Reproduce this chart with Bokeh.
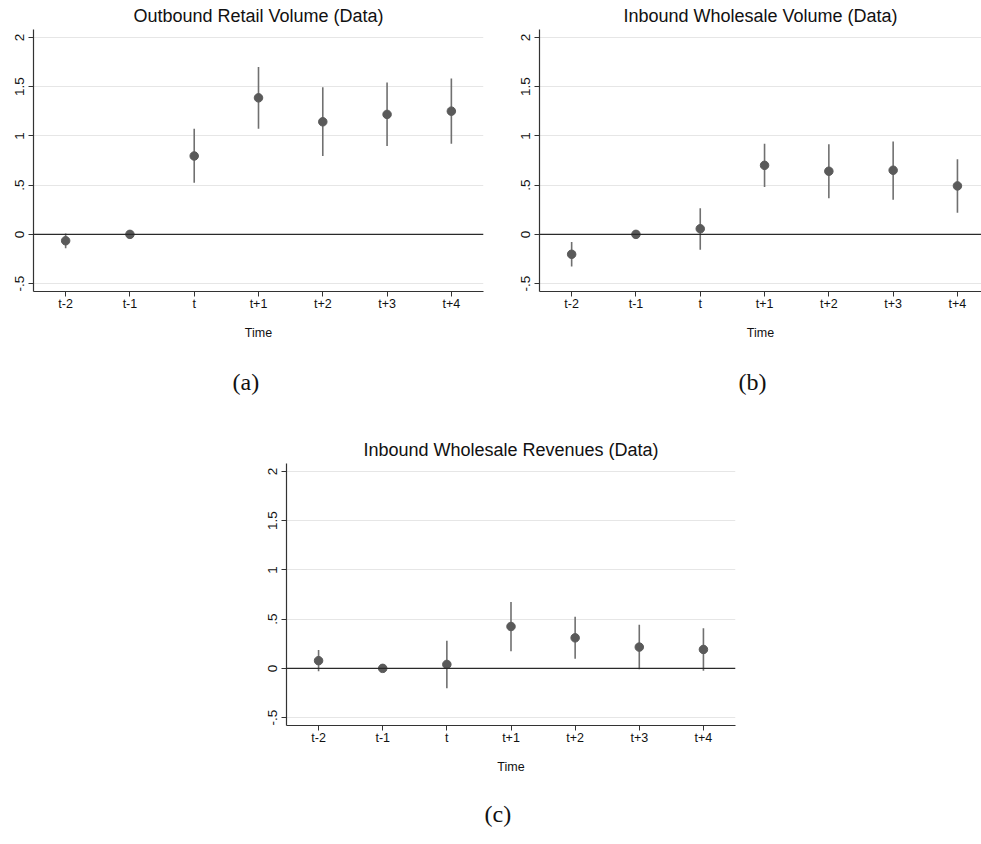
from bokeh.plotting import figure
from bokeh.models import FixedTicker, Span, Title, Spacer, Range1d, ColumnDataSource
from bokeh.layouts import column, row
from bokeh.embed import file_html
from bokeh.resources import INLINE

# ---------------- data ----------------
periods = ["t-2", "t-1", "t", "t+1", "t+2", "t+3", "t+4"]

y_ticks = [-0.5, 0, 0.5, 1, 1.5, 2]
y_tick_labels = ["-.5", "0", ".5", "1", "1.5", "2"]

a_title = "Outbound Retail Volume (Data)"
a_est = [-0.065, 0.0, 0.796, 1.386, 1.143, 1.218, 1.251]
a_lo = [-0.14, 0.0, 0.523, 1.072, 0.796, 0.897, 0.921]
a_hi = [0.01, 0.0, 1.072, 1.70, 1.494, 1.541, 1.582]

b_title = "Inbound Wholesale Volume (Data)"
b_est = [-0.202, 0.0, 0.057, 0.701, 0.641, 0.651, 0.492]
b_lo = [-0.327, 0.0, -0.155, 0.482, 0.368, 0.351, 0.219]
b_hi = [-0.078, 0.0, 0.266, 0.921, 0.914, 0.944, 0.762]

c_title = "Inbound Wholesale Revenues (Data)"
c_est = [0.078, 0.0, 0.040, 0.425, 0.31, 0.216, 0.192]
c_lo = [-0.03, 0.0, -0.202, 0.175, 0.098, -0.01, -0.024]
c_hi = [0.186, 0.0, 0.28, 0.675, 0.523, 0.442, 0.408]

captions = ["(a)", "(b)", "(c)"]
x_label = "Time"


def make_panel(title, est, lo, hi, caption, frame_width, x_end, border_left,
               border_right, border_top, border_bottom, caption_standoff,
               caption_offset, title_offset=0):
    xs = list(range(len(periods)))
    src = ColumnDataSource(dict(x=xs, est=est, lo=lo, hi=hi))
    p = figure(frame_width=frame_width, frame_height=262,
               x_range=Range1d(-0.5, x_end), y_range=Range1d(-0.58, 2.08),
               output_backend="svg", toolbar_location=None,
               min_border_left=border_left, min_border_right=border_right,
               min_border_top=border_top, min_border_bottom=border_bottom,
               background_fill_color="white", border_fill_color="white",
               outline_line_color=None)
    p.title.text = title
    p.title.text_font = "Liberation Sans"
    p.title.text_font_size = "18px"
    p.title.text_font_style = "normal"
    p.title.text_color = "#111111"
    p.title.align = "center"
    p.title.standoff = 7
    p.title.offset = title_offset

    for ax in (p.xaxis, p.yaxis):
        ax.major_label_text_font = "Liberation Sans"
        ax.major_label_text_color = "#111111"
        ax.axis_line_color = "#333333"
        ax.axis_line_width = 1.2
        ax.major_tick_line_color = "#333333"
        ax.major_tick_out = 5
        ax.major_tick_in = 0
        ax.minor_tick_line_color = None

    p.xaxis.ticker = FixedTicker(ticks=xs)
    p.xaxis.major_label_overrides = {i: lab for i, lab in zip(xs, periods)}
    p.xaxis.major_label_text_font_size = "12.5px"
    p.xaxis.major_label_standoff = 0
    p.xaxis.axis_label = x_label
    p.xaxis.axis_label_text_font = "Liberation Sans"
    p.xaxis.axis_label_text_font_size = "12.5px"
    p.xaxis.axis_label_text_font_style = "normal"
    p.xaxis.axis_label_text_color = "#111111"
    p.xaxis.axis_label_standoff = 12

    p.yaxis.ticker = FixedTicker(ticks=y_ticks)
    p.yaxis.major_label_overrides = {t: lab for t, lab in zip(y_ticks, y_tick_labels)}
    p.yaxis.major_label_text_font_size = "13.5px"
    p.yaxis.major_label_orientation = "vertical"
    p.yaxis.major_label_standoff = 4

    p.xgrid.visible = False
    p.ygrid.ticker = FixedTicker(ticks=y_ticks)
    p.ygrid.grid_line_color = "#e6e6e6"
    p.ygrid.grid_line_width = 1

    p.add_layout(Span(location=0, dimension="width", line_color="#2a2a2a",
                      line_width=1.4))
    p.segment(x0="x", y0="lo", x1="x", y1="hi", source=src,
              line_color="#707070", line_width=1.6)
    p.scatter(x="x", y="est", source=src, size=8.5,
              fill_color="#5a5a5a", line_color="#5a5a5a")

    cap = Title(text=caption, align="left", vertical_align="top",
                text_font="Liberation Serif",
                text_font_size="24px", text_font_style="normal",
                text_color="#111111", standoff=caption_standoff,
                offset=caption_offset)
    p.add_layout(cap, "below")
    return p


pa = make_panel(a_title, a_est, a_lo, a_hi, captions[0], 450, 6.5, 33, 31, 29, 143, 53, 199)
pb = make_panel(b_title, b_est, b_lo, b_hi, captions[1], 442, 6.374, 25, 0, 29, 143, 53, 199, 4)
pc = make_panel(c_title, c_est, c_lo, c_hi, captions[2], 449, 6.5, 25, 20, 29, 119, 49, 198)

layout = column(row(pa, pb), row(Spacer(width=261, height=10), pc))

open("out.html", "w").write(file_html(layout, INLINE))
